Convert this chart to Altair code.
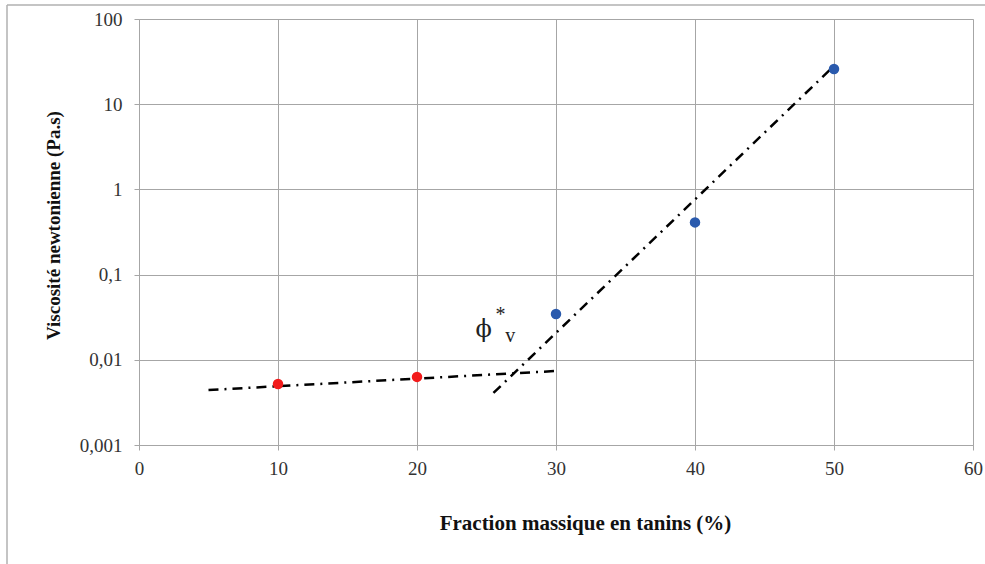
import altair as alt
import pandas as pd

# Measured points
red_x = [10, 20]
red_y = [0.0052, 0.0063]
blue_x = [30, 40, 50]
blue_y = [0.0345, 0.41, 25.9]

# Trend lines (dash-dot)
line1_x = [5, 30]
line1_y = [0.00442, 0.00739]
line2_x = [25.5, 50]
line2_y = [0.00408, 28.1]

# Annotation
phi_text = ["ϕ"]
phi_x = [24.8]
phi_y = [0.0224]
sub_text = ["*", "v"]
sub_x = [26.0, 26.7]
sub_y = [0.034, 0.0190]

serif = "Liberation Serif"
grid_col = "#a6a6a6"

pts = pd.DataFrame({
    "x": red_x + blue_x,
    "y": red_y + blue_y,
    "grp": ["r"] * len(red_x) + ["b"] * len(blue_x),
})
lines = pd.DataFrame({
    "x": line1_x + line2_x,
    "y": line1_y + line2_y,
    "seg": ["a"] * 2 + ["b"] * 2,
})
phi_df = pd.DataFrame({"t": phi_text, "x": phi_x, "y": phi_y})
sub_df = pd.DataFrame({"t": sub_text, "x": sub_x, "y": sub_y})

xs = alt.Scale(domain=[0, 60], nice=False)
ys = alt.Scale(type="log", domain=[0.001, 100], nice=False)

xax = alt.Axis(
    title="Fraction massique en tanins (%)",
    values=[0, 10, 20, 30, 40, 50, 60],
    grid=True, gridColor=grid_col, gridWidth=1,
    domainColor=grid_col, tickColor=grid_col, tickSize=5,
    labelFont=serif, labelFontSize=19, labelColor="#333333", labelPadding=9,
    labelFlush=False,
    titleFont=serif, titleFontSize=21, titleFontWeight="bold", titleColor="#111111",
    titlePadding=34, titleX=446,
)
yax = alt.Axis(
    title="Viscosité newtonienne (Pa.s)",
    values=[0.001, 0.01, 0.1, 1, 10, 100],
    labelExpr="replace(toString(datum.value), '.', ',')",
    grid=True, gridColor=grid_col, gridWidth=1,
    domainColor=grid_col, tickColor=grid_col, tickSize=5,
    labelFont=serif, labelFontSize=19, labelColor="#333333", labelPadding=12,
    labelFlush=False,
    titleFont=serif, titleFontSize=19, titleFontWeight="bold", titleColor="#111111",
    titlePadding=16, titleY=206,
)

base_lines = alt.Chart(lines).mark_line(
    color="black", strokeWidth=2.5, strokeDash=[10, 6, 2, 6]
).encode(
    x=alt.X("x:Q", scale=xs, axis=xax),
    y=alt.Y("y:Q", scale=ys, axis=yax),
    detail="seg:N",
)

points = alt.Chart(pts).mark_point(filled=True, opacity=1, size=110).encode(
    x=alt.X("x:Q", scale=xs),
    y=alt.Y("y:Q", scale=ys),
    color=alt.Color("grp:N", scale=alt.Scale(domain=["r", "b"], range=["#f21b1b", "#2a5aad"]), legend=None),
)

phi = alt.Chart(phi_df).mark_text(font="DejaVu Serif", fontSize=24, color="#222222",
                                  align="center", baseline="middle").encode(
    x=alt.X("x:Q", scale=xs),
    y=alt.Y("y:Q", scale=ys),
    text="t:N",
)
subs = alt.Chart(sub_df).mark_text(font=serif, fontSize=20, color="#222222",
                                   align="center", baseline="middle").encode(
    x=alt.X("x:Q", scale=xs),
    y=alt.Y("y:Q", scale=ys),
    text="t:N",
)

frame = alt.Chart(pd.DataFrame({"a": [0]})).mark_rule(color="#b0b0b0", strokeWidth=1.5, clip=False).encode(
    x=alt.value(-132), y=alt.value(-14), y2=alt.value(600)
)
frame_top = alt.Chart(pd.DataFrame({"a": [0]})).mark_rule(color="#b0b0b0", strokeWidth=1.5, clip=False).encode(
    x=alt.value(-132), x2=alt.value(900), y=alt.value(-14)
)

chart = alt.layer(base_lines, points, phi, subs, frame, frame_top).properties(
    width=834, height=426,
    autosize=alt.AutoSizeParams(type="none"),
    padding={"left": 139, "top": 19, "right": 12, "bottom": 119},
).configure_view(stroke=grid_col, strokeWidth=1).configure(background="white")

chart.save("out.html", embed_options={"renderer": "svg", "actions": False})
